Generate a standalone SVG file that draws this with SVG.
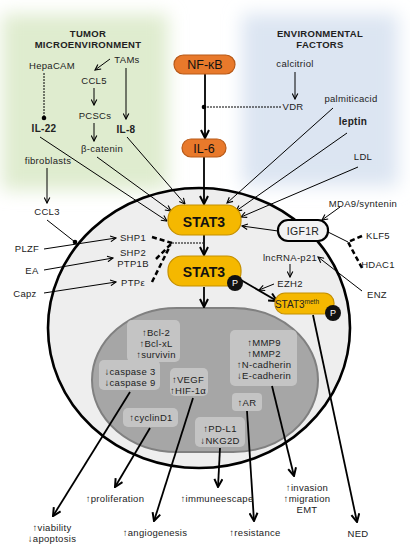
<svg xmlns="http://www.w3.org/2000/svg" width="410" height="550" viewBox="0 0 410 550">
<defs>
<filter id="blur" x="-30%" y="-30%" width="160%" height="160%"><feGaussianBlur stdDeviation="9"/></filter>
<marker id="a" viewBox="0 0 10 10" refX="9" refY="5" markerWidth="7" markerHeight="7" markerUnits="userSpaceOnUse" orient="auto"><path d="M1,1 L9,5 L1,9" fill="none" stroke="#000" stroke-width="1.6"/></marker>
<marker id="ab" viewBox="0 0 10 10" refX="9" refY="5" markerWidth="10" markerHeight="10" markerUnits="userSpaceOnUse" orient="auto"><path d="M1,1 L9,5 L1,9" fill="none" stroke="#000" stroke-width="2"/></marker>
</defs>
<style>
text{font-family:"Liberation Sans",Arial,sans-serif;font-size:9.5px;fill:#222;text-anchor:middle;letter-spacing:0.3px}
.t{font-weight:bold;font-size:9.5px;fill:#222}
.b{font-weight:bold;font-size:10px}
.thin{stroke:#000;stroke-width:1;fill:none}
.thick{stroke:#000;stroke-width:1.8;fill:none}
.dash{stroke:#000;stroke-width:2.5;stroke-dasharray:5,3;fill:none}
.dot{stroke:#000;stroke-width:1;stroke-dasharray:2,1;fill:none}
.box{fill:#c4c4c4}
.orange{fill:#e8792b;stroke:#b85a18;stroke-width:1.2}
.gold{fill:#f5b800;stroke:#c48f00;stroke-width:1.2}
.p{fill:#111}
.pt{fill:#fff;font-size:9px;letter-spacing:0}
</style>
<g id="background">
<rect x="2" y="14" width="166" height="176" fill="#dfeccf" filter="url(#blur)"/>
<rect x="242" y="14" width="156" height="172" fill="#dce5f2" filter="url(#blur)"/>
</g>
<g id="cell">
<ellipse cx="199" cy="328" rx="151" ry="140" fill="#eeeeee" stroke="#000" stroke-width="2.6"/>
</g>
<g id="nucleus">
<rect x="92" y="308" width="226" height="144" rx="85" ry="72" fill="#a6a6a6" stroke="#808080" stroke-width="2"/>
</g>
<g id="boxes">
<g id="bcl"><rect class="box" x="127" y="320" width="53" height="42" rx="5"/><text x="156" y="336">↑Bcl-2</text><text x="156" y="347">↑Bcl-xL</text><text x="156" y="358">↑survivin</text></g>
<g id="caspase"><rect class="box" x="99" y="360" width="61" height="30" rx="5"/><text x="130" y="375">↓caspase 3</text><text x="130" y="386">↓caspase 9</text></g>
<g id="vegf"><rect class="box" x="170" y="368" width="38" height="28" rx="5"/><text x="188" y="383">↑VEGF</text><text x="188" y="394">↑HIF-1α</text></g>
<g id="cyclin"><rect class="box" x="123" y="408" width="55" height="19" rx="5"/><text x="151" y="421">↑cyclinD1</text></g>
<g id="pdl1"><rect class="box" x="195" y="417" width="50" height="30" rx="5"/><text x="220" y="432">↑PD-L1</text><text x="220" y="444">↓NKG2D</text></g>
<g id="mmp"><rect class="box" x="230" y="330" width="67" height="56" rx="5"/><text x="264" y="346">↑MMP9</text><text x="264" y="357">↑MMP2</text><text x="264" y="368">↑N-cadherin</text><text x="264" y="379">↓E-cadherin</text></g>
<g id="ar"><rect class="box" x="232" y="393" width="30" height="18" rx="4"/><text x="247" y="406">↑AR</text></g>
</g>
<g id="connectors">
<line class="dot" x1="44" y1="73" x2="44" y2="117"/><circle cx="44" cy="118" r="2.3"/>
<line class="thin" x1="110" y1="59" x2="95" y2="70" marker-end="url(#a)"/>
<line class="thin" x1="94" y1="88" x2="94" y2="105" marker-end="url(#a)"/>
<line class="thin" x1="94" y1="123" x2="94" y2="141" marker-end="url(#a)"/>
<line class="thin" x1="126" y1="68" x2="126" y2="119" marker-end="url(#a)"/>
<line class="thin" x1="47" y1="168" x2="47" y2="203" marker-end="url(#a)"/>
<line class="thin" x1="47" y1="220" x2="75" y2="242"/><circle cx="75" cy="242" r="2.3"/>
<line class="thin" x1="40" y1="137" x2="167" y2="221" marker-end="url(#a)"/>
<line class="thin" x1="97" y1="157" x2="171" y2="211" marker-end="url(#a)"/>
<line class="thin" x1="127" y1="137" x2="185" y2="204" marker-end="url(#a)"/>
<line class="thin" x1="44" y1="249" x2="116" y2="238" marker-end="url(#a)"/>
<line class="thin" x1="44" y1="270" x2="113" y2="258" marker-end="url(#a)"/>
<line class="thin" x1="44" y1="293" x2="116" y2="282" marker-end="url(#a)"/>
<line class="dash" x1="152" y1="237" x2="172" y2="243"/>
<line class="dash" x1="156" y1="259" x2="172" y2="243"/>
<line class="dash" x1="152" y1="282" x2="170" y2="246"/>
<line class="dot" x1="172" y1="243" x2="203" y2="243"/>
<line class="thin" x1="295" y1="72" x2="295" y2="99" marker-end="url(#a)"/>
<line class="dot" x1="281" y1="107" x2="204" y2="107"/><circle cx="204" cy="107" r="2.3"/>
<line class="thin" x1="333" y1="108" x2="227" y2="203" marker-end="url(#a)"/>
<line class="thin" x1="347" y1="133" x2="236" y2="211" marker-end="url(#a)"/>
<line class="thin" x1="358" y1="167" x2="241" y2="217" marker-end="url(#a)"/>
<line class="thin" x1="278" y1="231" x2="242" y2="226" marker-end="url(#a)"/>
<line class="thin" x1="340" y1="207" x2="322" y2="220" marker-end="url(#a)"/>
<line class="thin" x1="328" y1="232" x2="348" y2="242"/>
<line class="dash" x1="362" y1="236" x2="348" y2="242"/>
<line class="dash" x1="362" y1="268" x2="348" y2="242"/>
<line class="thin" x1="362" y1="291" x2="318" y2="257" marker-end="url(#a)"/>
<line class="thin" x1="290" y1="264" x2="290" y2="277" marker-end="url(#a)"/>
<line class="thin" x1="274" y1="284" x2="259" y2="290" marker-end="url(#a)"/>
<line class="thick" x1="205" y1="73" x2="205" y2="138" marker-end="url(#ab)"/>
<line class="thick" x1="204" y1="157" x2="204" y2="204" marker-end="url(#ab)"/>
<line class="thick" x1="204" y1="235" x2="204" y2="255" marker-end="url(#ab)"/>
<line class="thick" x1="204" y1="287" x2="204" y2="307" marker-end="url(#ab)"/>
<line class="thick" x1="241" y1="280" x2="277" y2="301" marker-end="url(#ab)"/>
<line class="thick" x1="313" y1="315" x2="357" y2="522" marker-end="url(#ab)"/>
<line class="thick" x1="130" y1="392" x2="53" y2="516" marker-end="url(#ab)"/>
<line class="thick" x1="150" y1="428" x2="115" y2="487" marker-end="url(#ab)"/>
<line class="thick" x1="193" y1="398" x2="154" y2="521" marker-end="url(#ab)"/>
<line class="thick" x1="220" y1="448" x2="218" y2="487" marker-end="url(#ab)"/>
<line class="thick" x1="247" y1="411" x2="254" y2="521" marker-end="url(#ab)"/>
<line class="thick" x1="272" y1="386" x2="294" y2="476" marker-end="url(#ab)"/>
</g>
<g id="titles">
<text class="t" x="88" y="37">TUMOR</text><text class="t" x="88" y="48">MICROENVIRONMENT</text>
<text class="t" x="320" y="37">ENVIRONMENTAL</text><text class="t" x="320" y="48">FACTORS</text>
</g>
<g id="labels">
<text x="52" y="69">HepaCAM</text>
<text x="127" y="63">TAMs</text>
<text x="94" y="84">CCL5</text>
<text x="95" y="119">PCSCs</text>
<text x="102" y="152">β-catenin</text>
<text class="b" x="44" y="132">IL-22</text>
<text class="b" x="126" y="133">IL-8</text>
<text x="48" y="164">fibroblasts</text>
<text x="47" y="215">CCL3</text>
<text x="27" y="252">PLZF</text>
<text x="32" y="274">EA</text>
<text x="25" y="297">Capz</text>
<text x="133" y="241">SHP1</text>
<text x="133" y="256">SHP2</text>
<text x="133" y="267">PTP1B</text>
<text x="133" y="286">PTPε</text>
<text x="295" y="67">calcitriol</text>
<text x="293" y="110">VDR</text>
<text x="351" y="102">palmiticacid</text>
<text class="b" x="353" y="125">leptin</text>
<text x="363" y="160">LDL</text>
<text x="363" y="207">MDA9/syntenin</text>
<text x="378" y="239">KLF5</text>
<text x="378" y="268">HDAC1</text>
<text x="377" y="298">ENZ</text>
<text x="290" y="261">lncRNA-p21</text>
<text x="290" y="287">EZH2</text>
</g>
<g id="nfkb"><rect class="orange" x="174" y="55" width="61" height="19" rx="9.5"/><text x="205" y="69" style="font-size:12.5px;fill:#111;letter-spacing:0">NF-κB</text></g>
<g id="il6"><rect class="orange" x="182" y="139" width="44" height="18" rx="9"/><text x="204" y="153" style="font-size:12.5px;fill:#111;letter-spacing:0">IL-6</text></g>
<g id="stat3"><rect class="gold" x="168" y="205" width="73" height="30" rx="14"/><text x="204" y="227" style="font-size:14px;font-weight:bold;fill:#111;letter-spacing:0">STAT3</text></g>
<g id="stat3p"><rect class="gold" x="168" y="256" width="73" height="30" rx="14"/><text x="204" y="277" style="font-size:14px;font-weight:bold;fill:#111;letter-spacing:0">STAT3</text><circle class="p" cx="235" cy="283" r="8"/><text class="pt" x="235" y="286">P</text></g>
<g id="igf1r"><rect x="278" y="220" width="50" height="21" rx="10" fill="#f2f2f2" stroke="#000" stroke-width="2.2"/><text x="303" y="235" style="font-size:10.5px">IGF1R</text></g>
<g id="stat3meth"><rect class="gold" x="275" y="293" width="59" height="21" rx="10"/><text x="297" y="308" style="font-size:10px;letter-spacing:0">STAT3<tspan dy="-4" style="font-size:6.5px">meth</tspan></text><circle class="p" cx="333" cy="313" r="8"/><text class="pt" x="333" y="316">P</text></g>
<g id="outcomes">
<text x="52" y="531">↑viability</text><text x="52" y="542">↓apoptosis</text>
<text x="115" y="502">↑proliferation</text>
<text x="155" y="536">↑angiogenesis</text>
<text x="217" y="502">↑immuneescape</text>
<text x="255" y="536">↑resistance</text>
<text x="307" y="491">↑invasion</text><text x="307" y="502">↑migration</text><text x="307" y="513">EMT</text>
<text x="358" y="537">NED</text>
</g>
</svg>
